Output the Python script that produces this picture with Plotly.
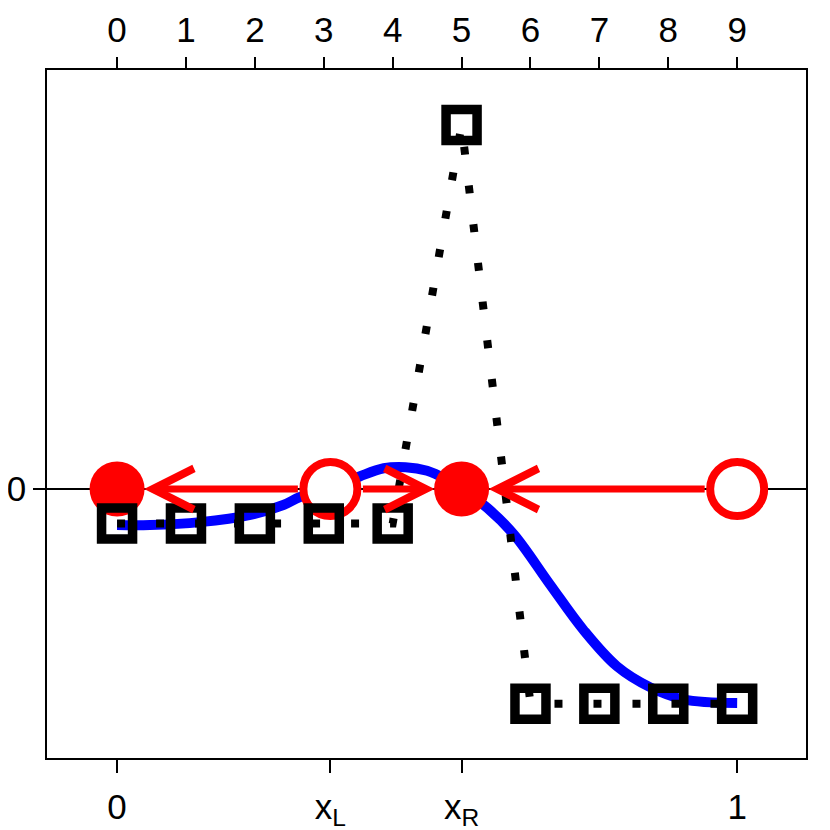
import plotly.graph_objects as go

# grid points (top axis indices) and their values
grid_idx = [0, 1, 2, 3, 4, 5, 6, 7, 8, 9]
grid_val = [-0.095, -0.095, -0.095, -0.095, -0.095, 1.0, -0.59, -0.59, -0.59, -0.59]

# smooth curve (bottom axis units)
curve_x = [0.0, 0.053, 0.134, 0.215, 0.268, 0.295, 0.344, 0.392, 0.430, 0.465,
           0.500, 0.530, 0.555, 0.597, 0.640, 0.698, 0.752, 0.806, 0.860, 0.913, 1.0]
curve_y = [-0.099, -0.099, -0.091, -0.071, -0.044, -0.022, 0.0, 0.035, 0.057, 0.060,
           0.050, 0.027, 0.0, -0.052, -0.125, -0.262, -0.387, -0.487, -0.545, -0.578, -0.588]

x_L = 0.344
x_R = 0.5556

stable_x = [0.0, x_R]
unstable_x = [x_L, 1.0]

# arrows: (tail, head)
arrows = [(x_L, 0.0), (x_L, x_R), (1.0, x_R)]

bottom_ticks = [0, x_L, x_R, 1]
bottom_text = ["0", "x<sub>L</sub>", "x<sub>R</sub>", "1"]

xr = [-0.113, 1.111]
yr = [-0.739, 1.151]
n = grid_idx[-1]

fig = go.Figure()

fig.add_trace(go.Scatter(
    x=grid_idx, y=grid_val, xaxis="x2", mode="lines",
    line=dict(color="black", width=8, dash="8px,31px"),
    showlegend=False,
))
fig.add_trace(go.Scatter(
    x=grid_idx, y=grid_val, xaxis="x2", mode="markers",
    marker=dict(symbol="square-open", size=31, color="black",
                line=dict(width=9.5, color="black")),
    showlegend=False,
))
fig.add_trace(go.Scatter(
    x=curve_x, y=curve_y, mode="lines",
    line=dict(color="blue", width=10, shape="spline", smoothing=1.0),
    showlegend=False,
))
fig.add_trace(go.Scatter(
    x=unstable_x, y=[0] * len(unstable_x), mode="markers",
    marker=dict(symbol="circle", size=54, color="white",
                line=dict(width=8, color="red")),
    showlegend=False,
))
fig.add_trace(go.Scatter(
    x=stable_x, y=[0] * len(stable_x), mode="markers",
    marker=dict(symbol="circle", size=55, color="red", line=dict(width=0)),
    showlegend=False,
))

for tail, head in arrows:
    head_r = 27 if head in stable_x else 31
    tail_r = 27 if tail in stable_x else 31
    fig.add_annotation(
        x=head, y=0, ax=tail, ay=0, xref="x", yref="y", axref="x", ayref="y",
        showarrow=True, arrowhead=5, arrowsize=1.15, arrowwidth=7,
        arrowcolor="red", standoff=head_r, startstandoff=tail_r, text="",
    )

tickfont = dict(family="Liberation Sans, Arial, sans-serif", size=35, color="black")

# page body adds an 8px offset, so margins are shifted to compensate
fig.update_layout(
    width=830,
    height=830,
    template="plotly_white",
    plot_bgcolor="white",
    paper_bgcolor="white",
    margin=dict(l=39, r=32, t=62, b=80),
    xaxis=dict(
        range=xr, tickvals=bottom_ticks, ticktext=bottom_text,
        ticks="outside", ticklen=13, tickwidth=1.5, tickcolor="black",
        showline=True, linecolor="black", linewidth=1.5, mirror=True,
        showgrid=False, zeroline=False, tickfont=tickfont,
        ticklabelstandoff=4, automargin=False,
    ),
    xaxis2=dict(
        overlaying="x", side="top", range=[xr[0] * n, xr[1] * n],
        tickvals=grid_idx, ticks="outside", ticklen=12, tickwidth=1.5,
        tickcolor="black", showline=False, showgrid=False, zeroline=False,
        tickfont=tickfont, ticklabelstandoff=1, automargin=False,
    ),
    yaxis=dict(
        range=yr, tickvals=[0], ticktext=["0"],
        ticks="outside", ticklen=12, tickwidth=1.5, tickcolor="black",
        showline=True, linecolor="black", linewidth=1.5, mirror=True,
        showgrid=False, zeroline=True, zerolinecolor="black", zerolinewidth=1.5,
        tickfont=tickfont, automargin=False,
    ),
)

fig.write_html("out.html")
